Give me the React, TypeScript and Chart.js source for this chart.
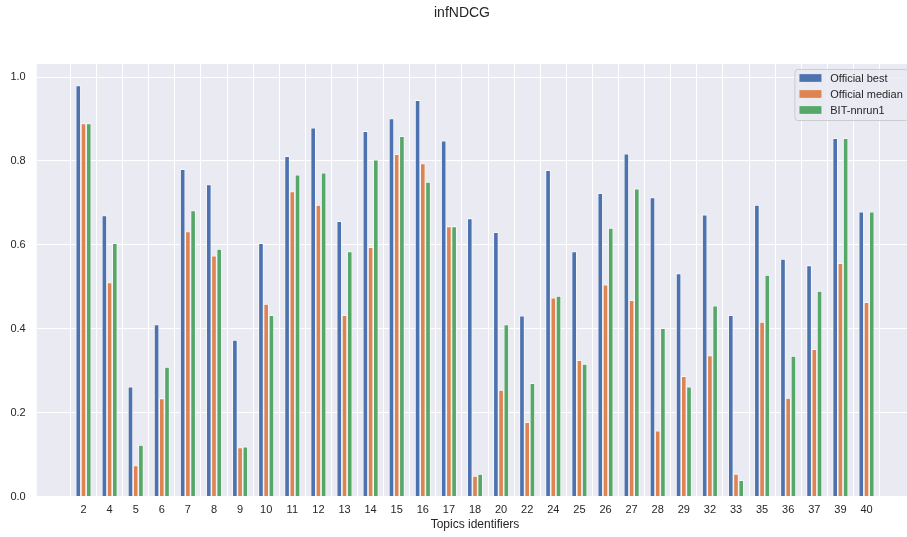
import React, { useEffect, useRef } from 'react';
import { Chart, registerables } from 'chart.js';

Chart.register(...registerables);

const topics = ['2', '4', '5', '6', '7', '8', '9', '10', '11', '12', '13', '14', '15', '16', '17', '18', '20', '22', '24', '25', '26', '27', '28', '29', '32', '33', '35', '36', '37', '39', '40'];

const officialBest = [0.980, 0.670, 0.262, 0.410, 0.780, 0.744, 0.373, 0.604, 0.811, 0.879, 0.656, 0.871, 0.901, 0.945, 0.848, 0.663, 0.630, 0.431, 0.778, 0.584, 0.723, 0.817, 0.713, 0.532, 0.672, 0.432, 0.695, 0.566, 0.551, 0.854, 0.679];
const officialMedian = [0.889, 0.510, 0.074, 0.234, 0.632, 0.574, 0.117, 0.459, 0.727, 0.695, 0.432, 0.594, 0.816, 0.794, 0.644, 0.049, 0.254, 0.177, 0.474, 0.325, 0.505, 0.468, 0.157, 0.287, 0.336, 0.054, 0.416, 0.235, 0.351, 0.556, 0.463];
const bitNnrun1 = [0.889, 0.604, 0.123, 0.309, 0.682, 0.590, 0.119, 0.432, 0.767, 0.772, 0.584, 0.803, 0.859, 0.750, 0.644, 0.054, 0.410, 0.270, 0.478, 0.316, 0.640, 0.734, 0.401, 0.262, 0.455, 0.039, 0.528, 0.335, 0.490, 0.854, 0.679];

const seriesLabels = ['Official best', 'Official median', 'BIT-nnrun1'];
const seriesColors = ['#4C72B0', '#DD8452', '#55A868'];
const yTicks = [0, 0.2, 0.4, 0.6, 0.8, 1.0];
const chartTitle = 'infNDCG';

const FONT = "'Liberation Sans', Arial, Helvetica, sans-serif";
const TEXT = '#262626';

const bgPlugin = {
  id: 'axesBg',
  beforeDraw(chart: any) {
    const { ctx, chartArea: a } = chart;
    ctx.save();
    ctx.fillStyle = '#EAEAF2';
    ctx.fillRect(a.left, a.top, a.right - a.left, a.bottom - a.top);
    ctx.restore();
  },
};

const figTitlePlugin = {
  id: 'figTitle',
  afterDraw(chart: any) {
    const { ctx } = chart;
    ctx.save();
    ctx.font = `14px ${FONT}`;
    ctx.fillStyle = TEXT;
    ctx.textAlign = 'center';
    ctx.textBaseline = 'middle';
    ctx.fillText(chartTitle, chart.width / 2, 13);
    ctx.restore();
  },
};

const legendPlugin = {
  id: 'mplLegend',
  afterDraw(chart: any) {
    const { ctx, chartArea: a } = chart;
    const fs = 11;
    ctx.save();
    ctx.font = `${fs}px ${FONT}`;
    const items = chart.data.datasets.map((d: any) => ({ label: d.label, color: d.backgroundColor }));
    const textW = Math.max(...items.map((i: any) => ctx.measureText(i.label).width));
    const pad = 5;
    const handleW = 22;
    const gap = 8.8;
    const rowH = 16;
    const w = pad * 2 + handleW + gap + textW;
    const h = 51;
    const right = a.right - 5.5;
    const left = right - w;
    const top = a.top + 5;
    ctx.beginPath();
    if ((ctx as any).roundRect) {
      (ctx as any).roundRect(left + 0.5, top + 0.5, w, h, 3);
    } else {
      ctx.rect(left + 0.5, top + 0.5, w, h);
    }
    ctx.fillStyle = 'rgba(234,234,242,0.8)';
    ctx.fill();
    ctx.strokeStyle = '#CCCCCC';
    ctx.lineWidth = 1;
    ctx.stroke();
    items.forEach((it: any, i: number) => {
      const cy = top + 9 + i * rowH;
      ctx.fillStyle = it.color;
      ctx.fillRect(left + pad, cy - 3.85, handleW, 7.7);
      ctx.fillStyle = TEXT;
      ctx.textBaseline = 'middle';
      ctx.textAlign = 'left';
      ctx.fillText(it.label, left + pad + handleW + gap, cy + 0.5);
    });
    ctx.restore();
  },
};

export default function App() {
  const canvasRef = useRef<HTMLCanvasElement | null>(null);

  useEffect(() => {
    if (!canvasRef.current) return;
    const values = [officialBest, officialMedian, bitNnrun1];
    const chart = new Chart(canvasRef.current, {
      type: 'bar',
      data: {
        datasets: values.map((arr, k) => ({
          label: seriesLabels[k],
          data: arr.map((y, i) => ({ x: i, y })),
          backgroundColor: seriesColors[k],
          borderColor: '#FFFFFF',
          borderWidth: 0.8,
          categoryPercentage: 0.6,
          barPercentage: 1.0,
        })),
      },
      options: {
        responsive: false,
        animation: false,
        devicePixelRatio: 1,
        layout: { padding: { left: 0, right: 10.7, top: 64, bottom: 0 } },
        plugins: {
          legend: { display: false },
          tooltip: { enabled: false },
          title: { display: false },
        },
        scales: {
          x: {
            type: 'linear',
            min: -1.793,
            max: 31.793,
            offset: false,
            grid: { color: '#FFFFFF', lineWidth: 1, drawTicks: false },
            border: { display: false },
            ticks: {
              autoSkip: false,
              maxRotation: 0,
              minRotation: 0,
              padding: 7,
              color: TEXT,
              font: { family: FONT, size: 11 },
              callback: (v: any) => topics[Math.round(Number(v))] ?? '',
            },
            afterBuildTicks: (s: any) => {
              s.ticks = topics.map((_, i) => ({ value: i }));
            },
            afterFit: (s: any) => {
              s.height = 40.5;
            },
            title: {
              display: true,
              text: 'Topics identifiers',
              color: TEXT,
              font: { family: FONT, size: 12 },
              padding: { top: 0, bottom: 5 },
            },
          },
          y: {
            min: 0,
            max: 1.031,
            grid: { color: '#FFFFFF', lineWidth: 1, drawTicks: false },
            border: { display: false },
            ticks: {
              padding: 11,
              color: TEXT,
              font: { family: FONT, size: 11 },
              callback: (v: any) => Number(v).toFixed(1),
            },
            afterBuildTicks: (s: any) => {
              s.ticks = yTicks.map((v) => ({ value: v }));
            },
            afterFit: (s: any) => {
              s.width = 36.7;
            },
          },
        },
      } as any,
      plugins: [bgPlugin, legendPlugin, figTitlePlugin],
    });
    return () => chart.destroy();
  }, []);

  return (
    <div style={{ position: 'fixed', left: 0, top: 0, width: 907, height: 537, overflow: 'hidden', background: '#FFFFFF' }}>
      <canvas ref={canvasRef} width={924} height={537} style={{ display: 'block', width: 924, height: 537 }} />
    </div>
  );
}
